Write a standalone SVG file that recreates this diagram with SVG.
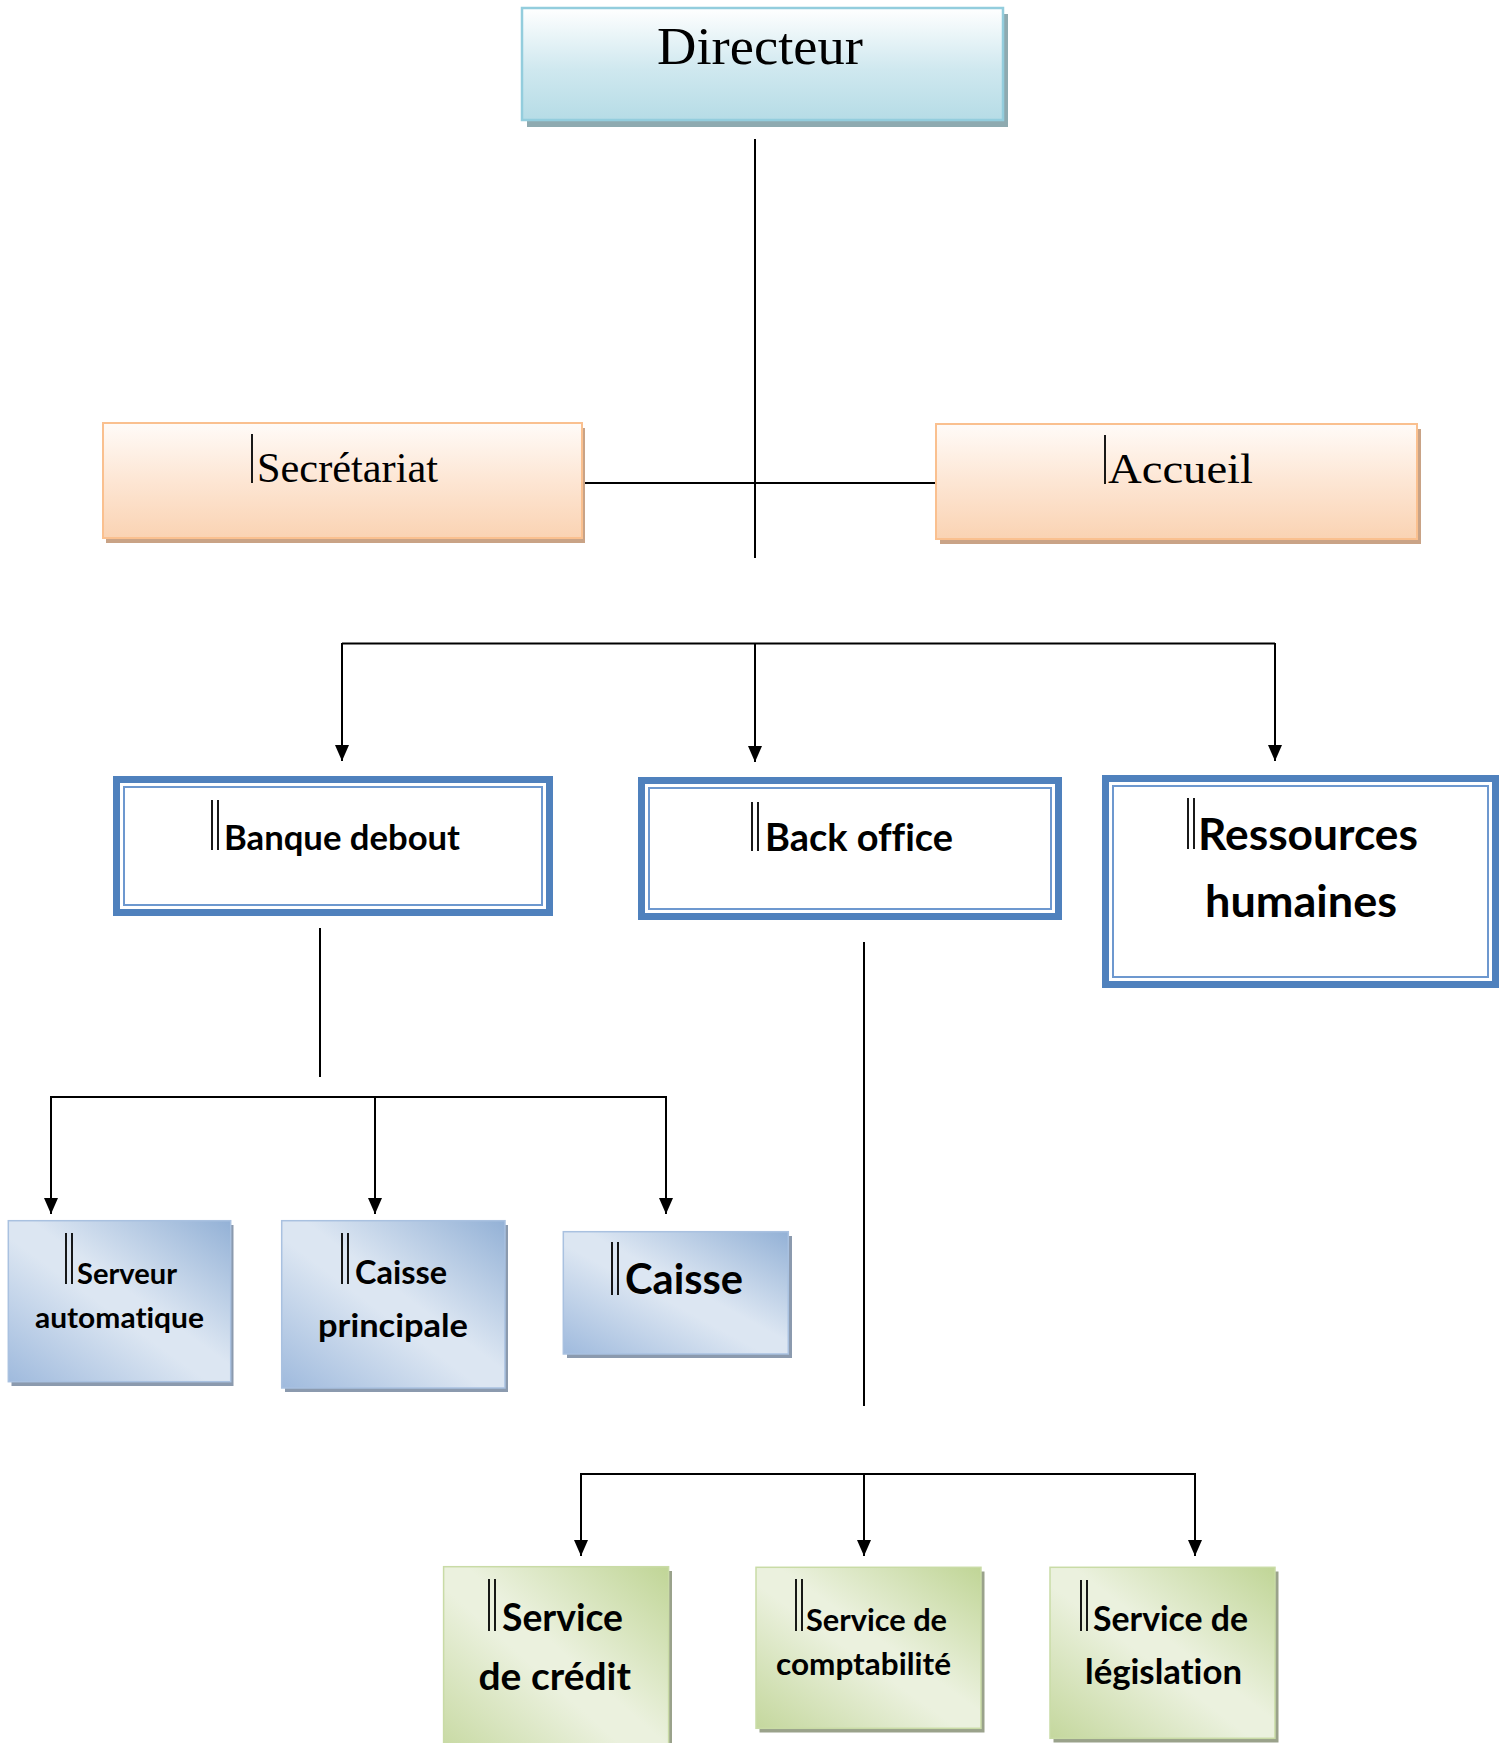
<svg xmlns="http://www.w3.org/2000/svg" width="1507" height="1743" viewBox="0 0 1507 1743">
<style>
.serif{font-family:"Liberation Serif","Times New Roman",serif;fill:#000}
.sans{font-family:Lato,"Open Sans",sans-serif;font-weight:700;fill:#000;font-variant-ligatures:none;font-feature-settings:"liga" 0,"clig" 0,"dlig" 0}
.bar{stroke:#000;stroke-width:1.8}
.conn{stroke:#000;stroke-width:2;fill:none}
.dbl-out{fill:#fff;stroke:#4f81bd;stroke-width:7}
.dbl-in{fill:none;stroke:#6d98cf;stroke-width:2}
.blue{fill:url(#gBlue);stroke:#a9c1e0;stroke-width:1.5}
.green{fill:url(#gGreen);stroke:#c9dba6;stroke-width:1.5}
.shB{fill:#8b9aae}
.shG{fill:#9aa28b}
</style>
<defs>
<linearGradient id="gDir" x1="0" y1="0" x2="0" y2="1">
<stop offset="0" stop-color="#ffffff"/><stop offset="0.55" stop-color="#cfe8ef"/><stop offset="1" stop-color="#b6dce6"/>
</linearGradient>
<linearGradient id="gOr" x1="0" y1="0" x2="0" y2="1">
<stop offset="0" stop-color="#fffbf8"/><stop offset="0.5" stop-color="#fde6d4"/><stop offset="1" stop-color="#fad3b3"/>
</linearGradient>
<linearGradient id="gBlue" x1="0" y1="1" x2="1" y2="0">
<stop offset="0" stop-color="#9fbadd"/><stop offset="0.45" stop-color="#dce6f2"/><stop offset="0.55" stop-color="#dce6f2"/><stop offset="1" stop-color="#93b1d6"/>
</linearGradient>
<linearGradient id="gGreen" x1="0" y1="1" x2="1" y2="0">
<stop offset="0" stop-color="#c4d79d"/><stop offset="0.45" stop-color="#ebf1de"/><stop offset="0.55" stop-color="#ebf1de"/><stop offset="1" stop-color="#c0d596"/>
</linearGradient>
<marker id="arr" viewBox="0 0 16 14" refX="16" refY="7" markerWidth="16" markerHeight="14" markerUnits="userSpaceOnUse" orient="auto">
<path d="M0,0 L16,7 L0,14 z" fill="#000"/>
</marker>
</defs>

<g id="connectors">
<line class="conn" x1="755" y1="139" x2="755" y2="558"/>
<line class="conn" x1="582" y1="483" x2="936" y2="483"/>
<line class="conn" x1="342" y1="643.5" x2="1275" y2="643.5" stroke-width="2.5"/>
<line class="conn" x1="342" y1="643" x2="342" y2="761" marker-end="url(#arr)"/>
<line class="conn" x1="755" y1="643" x2="755" y2="762" marker-end="url(#arr)"/>
<line class="conn" x1="1275" y1="643" x2="1275" y2="761" marker-end="url(#arr)"/>
<line class="conn" x1="320" y1="928" x2="320" y2="1077"/>
<line class="conn" x1="51" y1="1097" x2="666" y2="1097" stroke-width="2.5"/>
<line class="conn" x1="51" y1="1096" x2="51" y2="1214" marker-end="url(#arr)"/>
<line class="conn" x1="375" y1="1096" x2="375" y2="1214" marker-end="url(#arr)"/>
<line class="conn" x1="666" y1="1096" x2="666" y2="1214" marker-end="url(#arr)"/>
<line class="conn" x1="864" y1="942" x2="864" y2="1406"/>
<line class="conn" x1="581" y1="1474" x2="1195" y2="1474" stroke-width="2.5"/>
<line class="conn" x1="581" y1="1473" x2="581" y2="1556" marker-end="url(#arr)"/>
<line class="conn" x1="864" y1="1473" x2="864" y2="1556" marker-end="url(#arr)"/>
<line class="conn" x1="1195" y1="1473" x2="1195" y2="1556" marker-end="url(#arr)"/>
</g>

<g id="directeur">
<rect x="527" y="14" width="481" height="113" fill="#8eaab0"/>
<rect x="522" y="8" width="481" height="112" fill="url(#gDir)" stroke="#93cddd" stroke-width="2.5"/>
<text class="serif" x="657" y="64" font-size="52" textLength="206" lengthAdjust="spacingAndGlyphs">Directeur</text>
</g>

<g id="secretariat">
<rect x="106" y="428" width="479" height="115" fill="#c9a386"/>
<rect x="103" y="423" width="479" height="115" fill="url(#gOr)" stroke="#fac08f" stroke-width="2"/>
<line class="bar" x1="252" y1="434" x2="252" y2="483"/>
<text class="serif" x="257" y="482" font-size="43" textLength="181" lengthAdjust="spacingAndGlyphs">Secrétariat</text>
</g>

<g id="accueil">
<rect x="940" y="429" width="481" height="115" fill="#c9a386"/>
<rect x="936" y="424" width="481" height="115" fill="url(#gOr)" stroke="#fac08f" stroke-width="2"/>
<line class="bar" x1="1105" y1="435" x2="1105" y2="484"/>
<text class="serif" x="1108" y="483" font-size="43" textLength="145" lengthAdjust="spacingAndGlyphs">Accueil</text>
</g>

<g id="banque-debout">
<rect class="dbl-out" x="116.5" y="779.5" width="433" height="133"/>
<rect class="dbl-in" x="124" y="787" width="418" height="118"/>
<line class="bar" x1="212" y1="800" x2="212" y2="850"/>
<line class="bar" x1="218" y1="800" x2="218" y2="850"/>
<text class="sans" x="224" y="850" font-size="34" textLength="236" lengthAdjust="spacingAndGlyphs">Banque debout</text>
</g>

<g id="back-office">
<rect class="dbl-out" x="641.5" y="780.5" width="417" height="136"/>
<rect class="dbl-in" x="649" y="788" width="402" height="121"/>
<line class="bar" x1="752" y1="802" x2="752" y2="851"/>
<line class="bar" x1="758" y1="802" x2="758" y2="851"/>
<text class="sans" x="765" y="851" font-size="38" textLength="188" lengthAdjust="spacingAndGlyphs">Back office</text>
</g>

<g id="ressources-humaines">
<rect class="dbl-out" x="1105.5" y="778.5" width="390" height="206"/>
<rect class="dbl-in" x="1113" y="786" width="375" height="191"/>
<line class="bar" x1="1188" y1="798" x2="1188" y2="849"/>
<line class="bar" x1="1194" y1="798" x2="1194" y2="849"/>
<text class="sans" x="1198" y="850" font-size="43" textLength="220" lengthAdjust="spacingAndGlyphs">Ressources</text>
<text class="sans" x="1205" y="917" font-size="43" textLength="192" lengthAdjust="spacingAndGlyphs">humaines</text>
</g>

<g id="serveur-automatique">
<rect class="shB" x="11.5" y="1225" width="222" height="161"/>
<rect class="blue" x="8.3" y="1220.7" width="222.4" height="161"/>
<line class="bar" x1="66" y1="1233" x2="66" y2="1284"/>
<line class="bar" x1="72" y1="1233" x2="72" y2="1284"/>
<text class="sans" x="77" y="1284" font-size="28.5" textLength="100" lengthAdjust="spacingAndGlyphs">Serveur</text>
<text class="sans" x="35" y="1328" font-size="28.5" textLength="169" lengthAdjust="spacingAndGlyphs">automatique</text>
</g>

<g id="caisse-principale">
<rect class="shB" x="285" y="1225" width="223" height="167"/>
<rect class="blue" x="281.7" y="1220.7" width="223.3" height="167.3"/>
<line class="bar" x1="342" y1="1233" x2="342" y2="1284"/>
<line class="bar" x1="348" y1="1233" x2="348" y2="1284"/>
<text class="sans" x="355" y="1284" font-size="33" textLength="92" lengthAdjust="spacingAndGlyphs">Caisse</text>
<text class="sans" x="318" y="1337" font-size="33" textLength="150" lengthAdjust="spacingAndGlyphs">principale</text>
</g>

<g id="caisse">
<rect class="shB" x="567" y="1236" width="225" height="122"/>
<rect class="blue" x="563.3" y="1231.7" width="225" height="122.3"/>
<line class="bar" x1="612" y1="1242" x2="612" y2="1295"/>
<line class="bar" x1="618" y1="1242" x2="618" y2="1295"/>
<text class="sans" x="625" y="1294" font-size="42" textLength="118" lengthAdjust="spacingAndGlyphs">Caisse</text>
</g>

<g id="service-credit">
<rect class="shG" x="447" y="1571" width="225" height="200"/>
<rect class="green" x="443.6" y="1566.7" width="225" height="200"/>
<line class="bar" x1="489" y1="1579" x2="489" y2="1631"/>
<line class="bar" x1="495" y1="1579" x2="495" y2="1631"/>
<text class="sans" x="502" y="1631" font-size="38" textLength="121" lengthAdjust="spacingAndGlyphs">Service</text>
<text class="sans" x="478.5" y="1690" font-size="38" textLength="152.5" lengthAdjust="spacingAndGlyphs">de crédit</text>
</g>

<g id="service-comptabilite">
<rect class="shG" x="759.5" y="1571.5" width="225" height="161"/>
<rect class="green" x="756" y="1567.3" width="225" height="161"/>
<line class="bar" x1="796" y1="1579" x2="796" y2="1631"/>
<line class="bar" x1="802" y1="1579" x2="802" y2="1631"/>
<text class="sans" x="806" y="1631" font-size="30.5" textLength="141" lengthAdjust="spacingAndGlyphs">Service de</text>
<text class="sans" x="776" y="1675" font-size="30.5" textLength="175" lengthAdjust="spacingAndGlyphs">comptabilité</text>
</g>

<g id="service-legislation">
<rect class="shG" x="1053.5" y="1571.5" width="225" height="171"/>
<rect class="green" x="1050" y="1567.3" width="225" height="171"/>
<line class="bar" x1="1081" y1="1580" x2="1081" y2="1631"/>
<line class="bar" x1="1087" y1="1580" x2="1087" y2="1631"/>
<text class="sans" x="1093" y="1631" font-size="33.5" textLength="155" lengthAdjust="spacingAndGlyphs">Service de</text>
<text class="sans" x="1085" y="1684" font-size="33.5" textLength="157" lengthAdjust="spacingAndGlyphs">législation</text>
</g>
</svg>
